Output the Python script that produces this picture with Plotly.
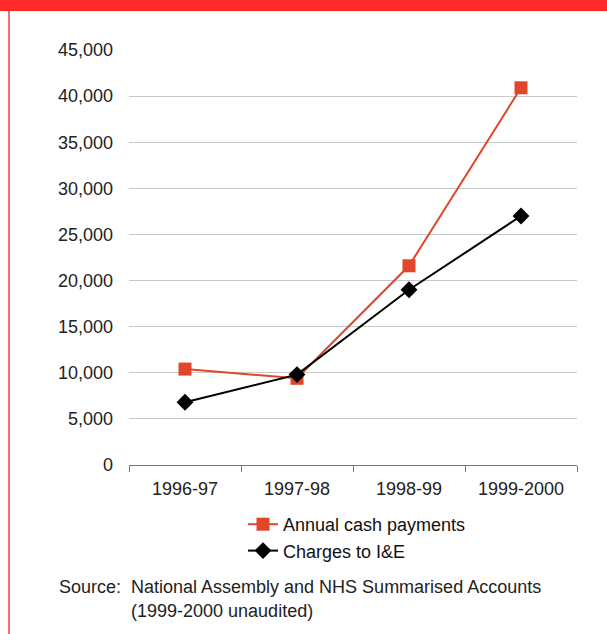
import plotly.graph_objects as go

years = ["1996-97", "1997-98", "1998-99", "1999-2000"]
annual_cash = [10400, 9400, 21600, 40900]
charges_ie = [6800, 9800, 19000, 27000]
y_ticks = [0, 5000, 10000, 15000, 20000, 25000, 30000, 35000, 40000, 45000]
y_tick_text = ["0", "5,000", "10,000", "15,000", "20,000", "25,000", "30,000", "35,000", "40,000", "45,000"]

W, H = 607, 634
L, R, T, B = 129, 30, 50, 169
PW, PH = W - L - R, H - T - B

def px(x):
    return (x - L) / PW

def py(y):
    return 1 - (y - T) / PH

FONT = "Liberation Sans, Arial, sans-serif"
FS = 18

fig = go.Figure()
fig.add_trace(go.Scatter(
    x=years, y=annual_cash, name="Annual cash payments", mode="lines+markers",
    line=dict(color="#E0462A", width=2),
    marker=dict(symbol="square", size=13, color="#E0462A"),
))
fig.add_trace(go.Scatter(
    x=years, y=charges_ie, name="Charges to I&E", mode="lines+markers",
    line=dict(color="#000000", width=2),
    marker=dict(symbol="diamond", size=13, color="#000000"),
))

fig.update_layout(
    width=W, height=H,
    margin=dict(l=L, r=R, t=T, b=B, pad=0),
    paper_bgcolor="white", plot_bgcolor="white",
    font=dict(family=FONT, size=FS, color="#222222"),
    showlegend=True,
    legend=dict(x=px(243), y=py(506), xanchor="left", yanchor="top",
                bgcolor="rgba(0,0,0,0)", font=dict(size=18, color="#111111"),
                tracegroupgap=0, itemwidth=30),
    xaxis=dict(type="category", range=[-0.5, 3.5], showline=True, linecolor="#777777", linewidth=1,
               ticks="outside", tickson="boundaries", ticklen=6, tickcolor="#777777",
               ticklabelstandoff=7,
               showgrid=False, tickfont=dict(size=FS, color="#222222")),
    yaxis=dict(range=[0, 45000], tickvals=y_ticks, ticktext=y_tick_text,
               showgrid=True, gridcolor="#C8C8C8", gridwidth=1, zeroline=False,
               showline=False, ticks="", ticklabelstandoff=15,
               tickfont=dict(size=FS, color="#222222")),
    shapes=[
        dict(type="rect", xref="paper", yref="paper", x0=px(-5), x1=px(W + 5),
             y0=py(11), y1=py(-5), fillcolor="#FF2A2A", line=dict(width=0), layer="above"),
        dict(type="rect", xref="paper", yref="paper", x0=px(8), x1=px(10),
             y0=py(H + 5), y1=py(11), fillcolor="#FF6B6B", line=dict(width=0), layer="above"),
    ],
    annotations=[
        dict(text="Source:", xref="paper", yref="paper", x=px(57), y=py(587),
             xanchor="left", yanchor="middle", showarrow=False,
             font=dict(size=18, color="#222222")),
        dict(text="National Assembly and NHS Summarised Accounts", xref="paper", yref="paper",
             x=px(129), y=py(587), xanchor="left", yanchor="middle", showarrow=False,
             font=dict(size=18, color="#222222")),
        dict(text="(1999-2000 unaudited)", xref="paper", yref="paper",
             x=px(129), y=py(611), xanchor="left", yanchor="middle", showarrow=False,
             font=dict(size=18, color="#222222")),
    ],
)

fig.write_html("out.html")
